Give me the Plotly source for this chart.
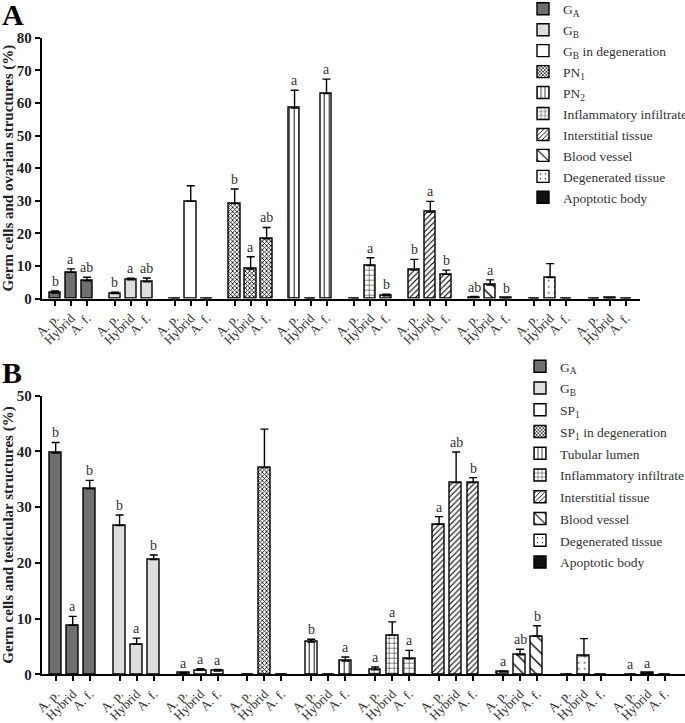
import plotly.graph_objects as go

species = ["A. p.", "Hybrid", "A. f."]

# ---------------- Panel A (ovary) ----------------
a_names = ["G<sub>A</sub>", "G<sub>B</sub>", "G<sub>B</sub> in degeneration", "PN<sub>1</sub>",
           "PN<sub>2</sub>", "Inflammatory infiltrate", "Interstitial tissue", "Blood vessel",
           "Degenerated tissue", "Apoptotic body"]
a_mean_ap = [1.7, 1.5, 0, 29.1, 58.4, 0, 8.7, 0.4, 0, 0]
a_err_ap = [0.6, 0.4, 0, 4.5, 5.5, 0, 3.3, 0.2, 0, 0]
a_mean_hy = [8.0, 5.7, 29.8, 9.0, 0, 10.1, 26.5, 4.1, 6.4, 0.1]
a_err_hy = [1.1, 0.5, 4.8, 3.8, 0, 2.4, 3.3, 1.6, 4.3, 0]
a_mean_af = [5.4, 5.1, 0, 18.3, 62.9, 0.8, 7.4, 0.1, 0, 0]
a_err_af = [1.1, 1.2, 0, 3.5, 4.4, 0.5, 1.3, 0, 0, 0]
a_sig_ap = ["b", "b", "", "b", "a", "", "b", "ab", "", ""]
a_sig_hy = ["a", "a", "", "a", "", "a", "a", "a", "", ""]
a_sig_af = ["ab", "ab", "", "ab", "a", "b", "b", "b", "", ""]

# ---------------- Panel B (testis) ----------------
b_names = ["G<sub>A</sub>", "G<sub>B</sub>", "SP<sub>1</sub>", "SP<sub>1</sub> in degeneration",
           "Tubular lumen", "Inflammatory infiltrate", "Interstitial tissue", "Blood vessel",
           "Degenerated tissue", "Apoptotic body"]
b_mean_ap = [39.7, 26.7, 0.2, 0, 5.8, 0.8, 26.9, 0.4, 0, 0]
b_err_ap = [1.9, 1.9, 0.1, 0, 0.5, 0.5, 1.4, 0.15, 0, 0]
b_mean_hy = [8.8, 5.4, 0.7, 37.1, 0, 7.0, 34.4, 3.5, 3.3, 0.2]
b_err_hy = [1.6, 1.1, 0.3, 6.9, 0, 2.4, 5.5, 1.0, 3.1, 0.05]
b_mean_af = [33.3, 20.6, 0.6, 0, 2.4, 2.8, 34.4, 6.8, 0, 0]
b_err_af = [1.5, 0.8, 0.25, 0, 0.7, 1.5, 0.9, 1.9, 0, 0]
b_sig_ap = ["b", "b", "a", "", "b", "a", "a", "a", "", "a"]
b_sig_hy = ["a", "a", "a", "", "", "a", "ab", "ab", "", "a"]
b_sig_af = ["b", "b", "a", "", "a", "a", "b", "b", "", ""]

# styles for the 10 structures (same order in both panels)
fill_colors = ["#6f6f6f", "#dedede", "white", "white", "white", "white", "white", "white", "white", "#111111"]
pat_shapes = ["", "", "", "x", "|", "+", "/", "\\", ".", ""]
pat_sizes = [8, 8, 8, 3, 5, 5, 4, 9, 6, 8]
pat_solid = [0.2, 0.2, 0.2, 0.45, 0.18, 0.18, 0.28, 0.15, 0.06, 0.2]

GROUP_STEP = 3.75
SERIF = "Times New Roman, Liberation Serif, Times, serif"

fig = go.Figure()


def positions(g):
    return [g * GROUP_STEP + s for s in range(3)]


def add_panel(names, m_ap, e_ap, m_hy, e_hy, m_af, e_af, s_ap, s_hy, s_af, xa, ya, leg):
    for g, name in enumerate(names):
        means = [m_ap[g], m_hy[g], m_af[g]]
        errs = [e_ap[g], e_hy[g], e_af[g]]
        xs = positions(g)
        marker = dict(color=fill_colors[g], line=dict(color="black", width=1.4))
        if pat_shapes[g]:
            marker["pattern"] = dict(shape=pat_shapes[g], size=pat_sizes[g], solidity=pat_solid[g],
                                     fgcolor="black", bgcolor="white", fillmode="replace")
        fig.add_trace(go.Bar(
            x=xs, y=means, width=0.7, name=name, marker=marker,
            error_y=dict(type="data", symmetric=False, array=errs, arrayminus=[0, 0, 0],
                         color="black", thickness=1.4, width=4),
            xaxis=xa, yaxis=ya, legend=leg, legendgroup=f"{leg}_{g}", showlegend=True,
        ))
        sigs = [s_ap[g], s_hy[g], s_af[g]]
        for x, m, e, s in zip(xs, means, errs, sigs):
            if s:
                fig.add_annotation(x=x, y=m + e, xref=xa, yref=ya, text=s, showarrow=False,
                                   yanchor="bottom", yshift=0,
                                   font=dict(family=SERIF, size=14, color="#333333"))


add_panel(a_names, a_mean_ap, a_err_ap, a_mean_hy, a_err_hy, a_mean_af, a_err_af,
          a_sig_ap, a_sig_hy, a_sig_af, "x", "y", "legend")
add_panel(b_names, b_mean_ap, b_err_ap, b_mean_hy, b_err_hy, b_mean_af, b_err_af,
          b_sig_ap, b_sig_hy, b_sig_af, "x2", "y2", "legend2")

tickvals = [p for g in range(10) for p in positions(g)]
ticktext = species * 10

W, H = 685, 723
xaxis_common = dict(showgrid=False, zeroline=False, showline=True, linecolor="black", linewidth=2,
                    ticks="outside", ticklen=5, tickwidth=1.5, tickcolor="black", automargin=False,
                    tickvals=tickvals, ticktext=ticktext, tickangle=-45,
                    tickfont=dict(family=SERIF, size=13, color="#333333"))
yaxis_common = dict(showgrid=False, zeroline=False, showline=True, linecolor="black", linewidth=2,
                    ticks="outside", ticklen=5, tickwidth=1.5, tickcolor="black", dtick=10,
                    automargin=False,
                    tickfont=dict(family=SERIF, size=15, color="#222222", weight="bold"),
                    title_font=dict(family=SERIF, size=15, color="#222222"))

legend_common = dict(font=dict(family=SERIF, size=13.5, color="#333333"), bgcolor="rgba(0,0,0,0)",
                     xanchor="left", yanchor="top", itemclick=False, traceorder="grouped")

fig.update_layout(
    width=W, height=H, margin=dict(l=0, r=0, t=0, b=0, autoexpand=False),
    paper_bgcolor="white", plot_bgcolor="white", bargap=0, barmode="overlay",
    xaxis=dict(domain=[41.7 / W, 640 / W], range=[-0.833, 36.63], anchor="y", **xaxis_common),
    yaxis=dict(domain=[1 - 298.5 / H, 1 - 37.7 / H], range=[0, 80], anchor="x",
               title=dict(text="<b>Germ cells and ovarian structures (%)</b>", standoff=4),
               **yaxis_common),
    xaxis2=dict(domain=[41.7 / W, 1.0], range=[-0.82, 36.93], anchor="y2", **xaxis_common),
    yaxis2=dict(domain=[1 - 674.3 / H, 1 - 395.7 / H], range=[0, 50], anchor="x2",
                title=dict(text="<b>Germ cells and testicular structures (%)</b>", standoff=4),
                **yaxis_common),
    legend=dict(x=523 / W, y=1.009, tracegroupgap=0.4, **legend_common),
    legend2=dict(x=520 / W, y=1 - 351 / H, tracegroupgap=1.2, **legend_common),
    font=dict(family=SERIF),
)

fig.add_annotation(x=0, y=1, xref="paper", yref="paper", xanchor="left", yanchor="top",
                   text="<b>A</b>", showarrow=False, font=dict(family=SERIF, size=30, color="black"),
                   xshift=0, yshift=4)
fig.add_annotation(x=0, y=1 - 360 / H, xref="paper", yref="paper", xanchor="left", yanchor="top",
                   text="<b>B</b>", showarrow=False, font=dict(family=SERIF, size=30, color="black"),
                   xshift=0, yshift=6)

fig.write_html("out.html", config={"displayModeBar": False},
               post_script="document.body.style.margin='0';document.body.style.padding='0';")
